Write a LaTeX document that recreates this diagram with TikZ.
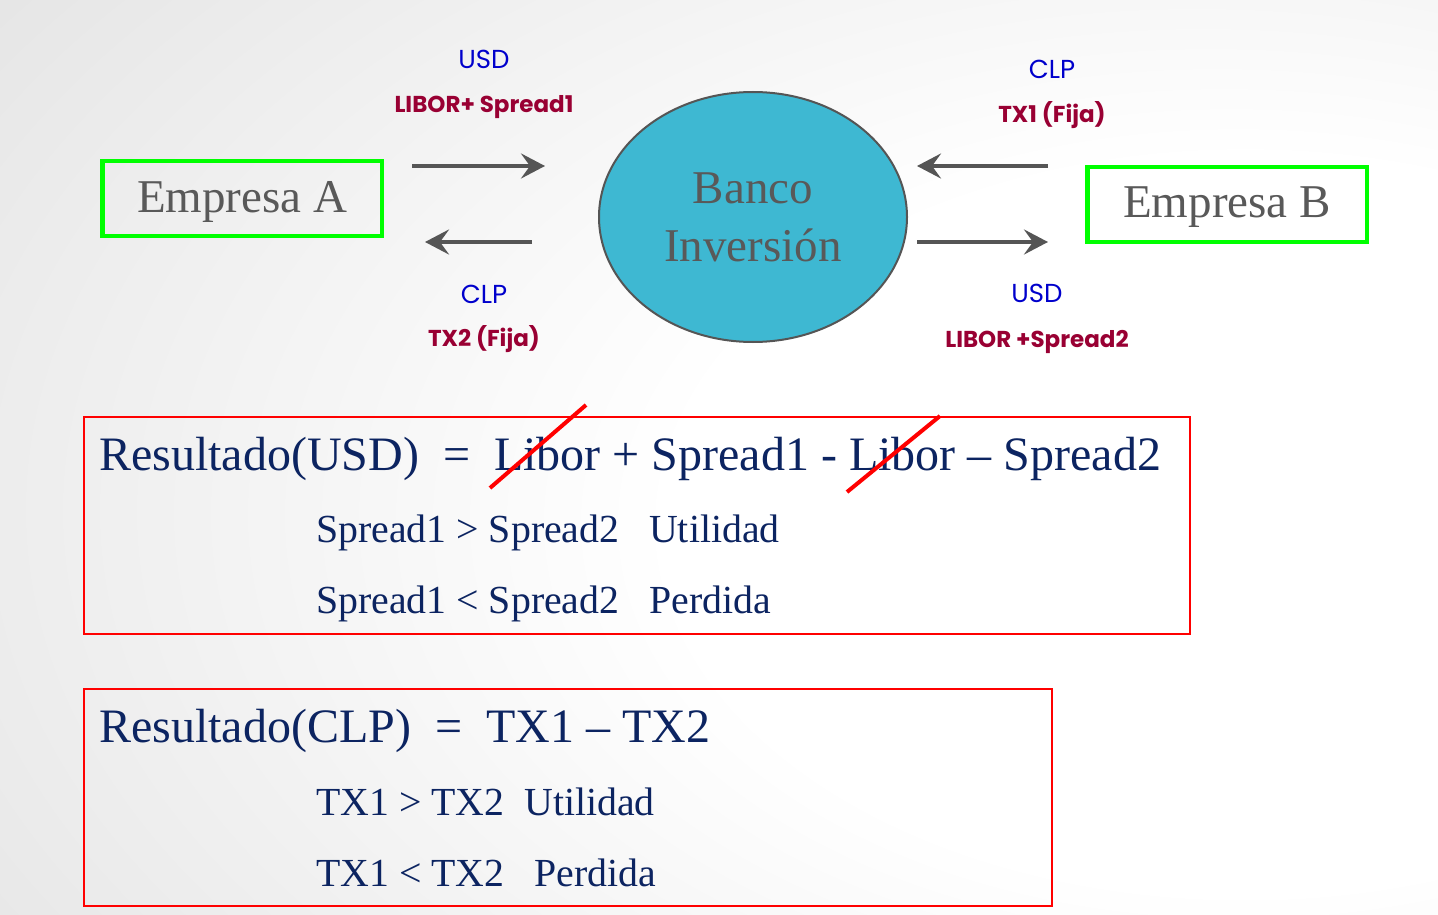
\documentclass[tikz,border=0pt]{standalone}
\usepackage{fontspec}
\setmainfont{Liberation Serif}
\newfontfamily\lblfont{Poppins}
\usetikzlibrary{arrows.meta, shapes.geometric, positioning}
\definecolor{boxgreen}{RGB}{0,255,0}
\definecolor{bancofill}{RGB}{62,184,210}
\definecolor{txtgray}{RGB}{89,89,89}
\definecolor{arrowgray}{RGB}{85,85,85}
\definecolor{curblue}{RGB}{0,0,204}
\definecolor{ratered}{RGB}{153,0,51}
\definecolor{navy}{RGB}{12,36,97}
\definecolor{framered}{RGB}{255,0,0}
\pgfdeclareradialshading{slidebg}{\pgfpoint{23bp}{-4.6bp}}{color(0bp)=(white); color(20bp)=(white); color(60bp)=(gray!30); color(100bp)=(gray!34)}

\begin{document}
\begin{tikzpicture}[
    x=1pt, y=-1pt,
    empresa/.style={draw=boxgreen, line width=4.5pt, minimum width=279.5pt,
                    minimum height=75pt, inner sep=0pt, text depth=4pt,
                    text=txtgray, font=\fontsize{47}{56}\selectfont},
    banco/.style={ellipse, draw=arrowgray, line width=2pt, fill=bancofill,
                  minimum width=308pt, minimum height=250pt, inner sep=0pt,
                  align=center, text=txtgray, font=\fontsize{47}{58}\selectfont},
    cur/.style={anchor=base, inner sep=0pt, text=curblue,
                font=\lblfont\fontsize{26}{30}\selectfont},
    rate/.style={anchor=base, inner sep=0pt, text=ratered,
                 font=\lblfont\bfseries\fontsize{23}{27}\selectfont},
    frame/.style={draw=framered, line width=2pt, inner sep=0pt},
    big/.style={anchor=base west, inner sep=0pt, text=navy,
                font=\fontsize{48}{56}\selectfont},
    small/.style={anchor=base west, inner sep=0pt, text=navy,
                  font=\fontsize{39.8}{46}\selectfont},
    flow/.style={-{Stealth[length=24pt, width=25pt, inset=9pt]},
                 line width=4.8pt, arrowgray},
    strike/.style={framered, line width=4pt},
]
\shade[shading=slidebg] (0,0) rectangle (1438,915);
\useasboundingbox (0,0) rectangle (1438,915);

\node[empresa] (empA) at (242.25,198.5) {Empresa A};
\node[empresa] (empB) at (1227,204.5) {Empresa B};
\node[banco] (banco) at (753,217) {Banco\\Inversión};

\coordinate (aout) at (412,166);
\coordinate (aoutend) at (545,166);
\coordinate (ain) at (532,242);
\coordinate (ainend) at (425,242);
\coordinate (bin) at (1048,166);
\coordinate (binend) at (917,166);
\coordinate (bout) at (917,242);
\coordinate (boutend) at (1048,242);
\draw[flow] (aout) -- (aoutend);
\draw[flow] (ain) -- (ainend);
\draw[flow] (bin) -- (binend);
\draw[flow] (bout) -- (boutend);

\node[cur] (usdA) at (484,69) {USD};
\node[rate] (rateA) at (484,113) {LIBOR+ Spread1};
\node[cur] (clpA) at (484,303) {CLP};
\node[rate] (tx2) at (484,346.7) {TX2 (Fija)};
\node[cur] (clpB) at (1052,79) {CLP};
\node[rate] (tx1) at (1052,122.7) {TX1 (Fija)};
\node[cur] (usdB) at (1037,302) {USD};
\node[rate] (rateB) at (1037,347) {LIBOR +Spread2};

\node[frame, minimum width=1106pt, minimum height=217pt] (usdframe) at (637,525.5) {};
\node[big] (resusd) at (99,470) {Resultado(USD)~~=~~Libor + Spread1 - Libor – Spread2};
\node[small] (usdgain) at (316,542.7) {Spread1 > Spread2~~~Utilidad};
\node[small] (usdloss) at (316,613) {Spread1 < Spread2~~~Perdida};
\draw[strike] (490,488) -- (586,405);
\draw[strike] (847,492) -- (940,416);

\node[frame, minimum width=968pt, minimum height=217pt] (clpframe) at (568,797.5) {};
\node[big] (resclp) at (99,742.7) {Resultado(CLP)~~=~~TX1 – TX2};
\node[small] (clpgain) at (316,815) {TX1 > TX2~~Utilidad};
\node[small] (clploss) at (316,886.7) {TX1 < TX2~~~Perdida};
\end{tikzpicture}
\end{document}
